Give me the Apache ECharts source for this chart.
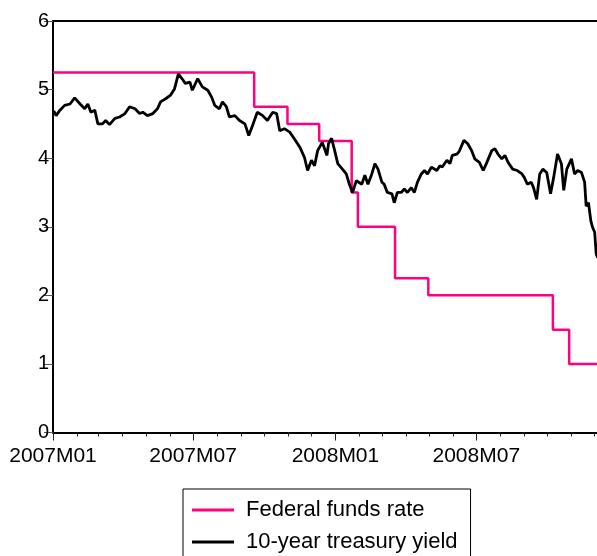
<!DOCTYPE html>
<html>
<head>
<meta charset="utf-8">
<script src="https://cdn.jsdelivr.net/npm/echarts@6/dist/echarts.min.js"></script>
<style>
html,body{margin:0;padding:0;background:#fff;}
#chart{width:597px;height:556px;}
</style>
</head>
<body>
<div id="chart"></div>
<script>
// Federal funds target rate (step changes)
const fedDates = ['2007-01-01','2007-09-18','2007-10-31','2007-12-11','2008-01-22','2008-01-30','2008-03-18','2008-04-30','2008-10-08','2008-10-29','2008-12-05'];
const fedValues = [5.25, 4.75, 4.50, 4.25, 3.50, 3.00, 2.25, 2.00, 1.50, 1.00, 1.00];

// 10-year treasury yield
const yieldDates = [
'2007-01-02','2007-01-05','2007-01-10','2007-01-16','2007-01-23','2007-01-29','2007-02-05','2007-02-11','2007-02-15','2007-02-19',
'2007-02-24','2007-02-28','2007-03-06','2007-03-10','2007-03-15','2007-03-22','2007-03-28','2007-04-04','2007-04-10','2007-04-17',
'2007-04-23','2007-04-27','2007-05-03','2007-05-10','2007-05-16','2007-05-20','2007-05-27','2007-06-02','2007-06-07','2007-06-12',
'2007-06-18','2007-06-21','2007-06-27','2007-06-30','2007-07-07','2007-07-13','2007-07-20','2007-07-25','2007-07-29','2007-08-04',
'2007-08-08','2007-08-13','2007-08-17','2007-08-24','2007-08-30','2007-09-06','2007-09-11','2007-09-16','2007-09-22','2007-09-29',
'2007-10-05','2007-10-12','2007-10-17','2007-10-21','2007-10-27','2007-11-03','2007-11-09','2007-11-16','2007-11-22','2007-11-26',
'2007-12-01','2007-12-05','2007-12-09','2007-12-15','2007-12-21','2007-12-23','2007-12-27','2007-12-31','2008-01-04','2008-01-10',
'2008-01-15','2008-01-19','2008-01-23','2008-01-28','2008-02-04','2008-02-08','2008-02-12','2008-02-17','2008-02-21','2008-02-25',
'2008-03-01','2008-03-04','2008-03-08','2008-03-14','2008-03-17','2008-03-21','2008-03-26','2008-03-30','2008-04-03','2008-04-08',
'2008-04-12','2008-04-16','2008-04-21','2008-04-25','2008-04-29','2008-05-04','2008-05-11','2008-05-15','2008-05-18','2008-05-24',
'2008-05-28','2008-05-31','2008-06-06','2008-06-09','2008-06-15','2008-06-20','2008-06-25','2008-06-29','2008-07-05','2008-07-10',
'2008-07-14','2008-07-21','2008-07-25','2008-07-29','2008-08-03','2008-08-07','2008-08-11','2008-08-17','2008-08-23','2008-08-29',
'2008-09-01','2008-09-05','2008-09-10','2008-09-13','2008-09-17','2008-09-21','2008-09-25','2008-09-30','2008-10-05','2008-10-09',
'2008-10-14','2008-10-19','2008-10-22','2008-10-26','2008-11-01','2008-11-05','2008-11-09','2008-11-14','2008-11-18','2008-11-20',
'2008-11-23','2008-11-26','2008-11-28','2008-12-01','2008-12-03','2008-12-05'
];
const yieldValues = [
4.69,4.62,4.70,4.77,4.79,4.88,4.79,4.72,4.79,4.67,
4.70,4.50,4.50,4.55,4.49,4.58,4.60,4.65,4.75,4.72,
4.65,4.67,4.62,4.65,4.72,4.82,4.87,4.92,5.01,5.23,
5.14,5.09,5.11,4.99,5.16,5.04,4.99,4.89,4.77,4.72,
4.82,4.75,4.60,4.62,4.55,4.50,4.33,4.48,4.67,4.62,
4.55,4.67,4.65,4.40,4.43,4.38,4.28,4.16,4.01,3.82,
3.97,3.89,4.11,4.23,4.04,4.21,4.29,4.11,3.92,3.84,
3.77,3.62,3.50,3.67,3.62,3.75,3.62,3.77,3.92,3.84,
3.65,3.62,3.50,3.48,3.35,3.50,3.50,3.55,3.50,3.57,
3.50,3.65,3.77,3.82,3.77,3.87,3.82,3.89,3.87,3.97,
3.92,4.04,4.06,4.10,4.26,4.21,4.11,3.99,3.94,3.82,
3.92,4.11,4.14,4.06,3.99,4.04,3.94,3.84,3.82,3.77,
3.72,3.62,3.65,3.57,3.40,3.77,3.84,3.79,3.48,3.72,
4.06,3.92,3.53,3.84,3.99,3.77,3.82,3.79,3.65,3.30,
3.35,3.09,3.00,2.92,2.60,2.55
];

// x-axis ticks (month starts) and labels
const monthTickDates = [];
for (let y = 2007; y <= 2008; y++) for (let m = 1; m <= 12; m++) monthTickDates.push(y + '-' + String(m).padStart(2, '0') + '-01');
const majorTickDates = ['2007-01-01','2007-07-01','2008-01-01','2008-07-01'];
const majorTickLabels = ['2007M01','2007M07','2008M01','2008M07'];
const yTicks = [0,1,2,3,4,5,6];

const DAY = 86400000;
const origin = Date.UTC(2007, 0, 1);
function dayOf(s){ const p = s.split('-').map(Number); return Math.round((Date.UTC(p[0], p[1]-1, p[2]) - origin) / DAY); }
const monthTicks = monthTickDates.map(dayOf);
const majorTicks = majorTickDates.map(dayOf);
const xMin = dayOf('2007-01-01'), xMax = dayOf('2008-12-04');

const chart = echarts.init(document.getElementById('chart'), null, {renderer: 'canvas'});
const font = 'Arial, "Liberation Sans", sans-serif';
chart.setOption({
  animation: false,
  backgroundColor: '#fff',
  grid: {left: 53, top: 21, right: 0, bottom: 123.5, show: false},
  xAxis: [{
    type: 'value', min: xMin, max: xMax,
    axisLine: {show: true, onZero: false, lineStyle: {color: '#000', width: 2}},
    axisTick: {show: true, length: 4, customValues: monthTicks, lineStyle: {color: '#222', width: 1}},
    axisLabel: {show: false},
    splitLine: {show: false}
  }, {
    type: 'value', min: xMin, max: xMax, position: 'bottom', gridIndex: 0,
    axisLine: {show: false, onZero: false},
    axisTick: {show: true, length: 8, customValues: majorTicks, lineStyle: {color: '#222', width: 1}},
    axisLabel: {show: true, customValues: majorTicks, margin: 13, color: '#000', fontSize: 21, fontFamily: font,
      formatter: function (v) { const i = majorTicks.indexOf(Math.round(v)); return i >= 0 ? majorTickLabels[i] : ''; }},
    splitLine: {show: false}
  }, {
    type: 'value', min: xMin, max: xMax, position: 'top', gridIndex: 0,
    axisLine: {show: true, onZero: false, lineStyle: {color: '#000', width: 2}},
    axisTick: {show: false}, axisLabel: {show: false}, splitLine: {show: false}
  }],
  yAxis: {
    type: 'value', min: yTicks[0], max: yTicks[yTicks.length-1], interval: 1,
    axisLine: {show: true, lineStyle: {color: '#000', width: 2}},
    axisTick: {show: true, length: 9, lineStyle: {color: '#555', width: 1}},
    axisLabel: {color: '#000', fontSize: 20, fontFamily: font, margin: 4, padding: [0,0,7,0]},
    splitLine: {show: false}
  },
  legend: {
    left: 183, top: 489, width: 320, height: 80, orient: 'vertical',
    padding: [10, 13, 14, 9], itemGap: 10, itemWidth: 42, itemHeight: 3, icon: 'rect',
    borderColor: '#000', borderWidth: 1,
    textStyle: {color: '#000', fontSize: 22, fontFamily: font, lineHeight: 21, padding: [0, 0, 0, 7]},
    data: ['Federal funds rate', '10-year treasury yield']
  },
  series: [{
    name: 'Federal funds rate', type: 'line', step: 'end', showSymbol: false, symbol: 'none',
    data: fedDates.map((d, i) => [dayOf(d), fedValues[i]]),
    lineStyle: {color: '#ff0080', width: 2.5}, itemStyle: {color: '#ff0080'}, z: 3
  }, {
    name: '10-year treasury yield', type: 'line', showSymbol: false, symbol: 'none',
    data: yieldDates.map((d, i) => [dayOf(d), yieldValues[i]]),
    lineStyle: {color: '#000', width: 2.8}, itemStyle: {color: '#000'}, z: 4
  }]
});
</script>
</body>
</html>
